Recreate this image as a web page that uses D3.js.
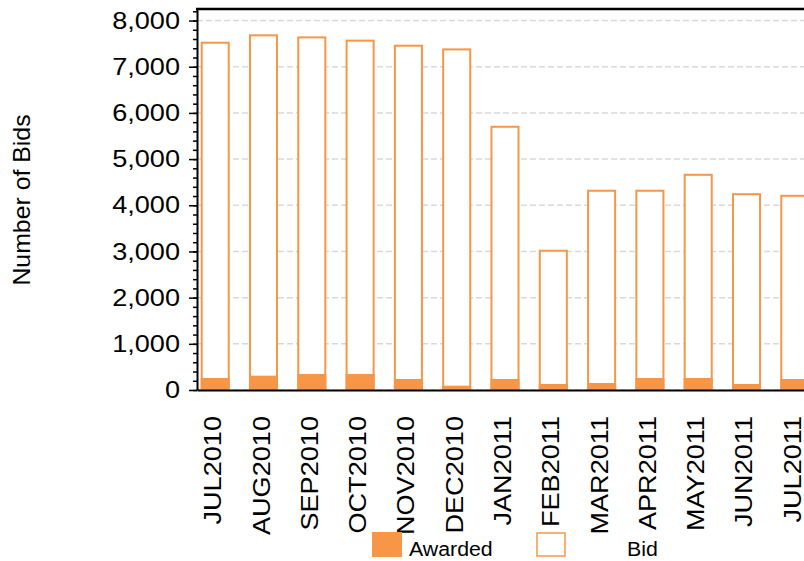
<!DOCTYPE html>
<html lang="en">
  <head>
    <meta charset="utf-8">
    <title>Bids by month</title>
    <script src="https://d3js.org/d3.v7.min.js"></script>
    <style>
      body { margin: 0; background: #fff; }
      svg { display: block; font-family: "Liberation Sans", Arial, sans-serif; }
    </style>
  </head>
  <body>
    <script type="text/javascript">

      var w = 804;
      var h = 561;

      var months = ["JUL2010","AUG2010","SEP2010","OCT2010","NOV2010","DEC2010",
                    "JAN2011","FEB2011","MAR2011","APR2011","MAY2011","JUN2011","JUL2011"];
      var bid     = [7520, 7680, 7635, 7565, 7455, 7375, 5700, 3015, 4315, 4315, 4660, 4240, 4205];
      var awarded = [260, 310, 346, 346, 238, 94, 238, 130, 152, 260, 260, 130, 238];
      var yTicks  = [0, 1000, 2000, 3000, 4000, 5000, 6000, 7000, 8000];
      var seriesNames = ["Awarded", "Bid"];

      var orange = "#F79646";

      // plot box (right side runs past the window, like the original)
      // note: can't call these top/left etc, window.top is read-only
      var plotL = 197, plotR = 813, plotT = 9, plotB = 390;

      var svg = d3.select("body")
          .append("svg")
          .attr("width", w)
          .attr("height", h);

      var xscale = d3.scaleBand()
            .domain(months)
            .range([plotL, plotR])
            .paddingInner(0.44)
            .paddingOuter(0.097);

      var yscale = d3.scaleLinear()
            .domain([0, 8250])
            .range([plotB, plotT]);

      // stretch text along its line a bit, the original font runs wide
      function stretch(sel, k) {
        sel.each(function() {
          var len = this.getComputedTextLength();
          d3.select(this)
            .attr("textLength", len * k)
            .attr("lengthAdjust", "spacingAndGlyphs");
        });
      }

      // grid
      svg.append("g")
        .selectAll("line")
        .data(yTicks)
        .enter()
        .append("line")
        .attr("x1", plotL)
        .attr("x2", plotR)
        .attr("y1", d => yscale(d))
        .attr("y2", d => yscale(d))
        .attr("stroke", "#d9d9d9")
        .attr("stroke-width", 1.5)
        .attr("stroke-dasharray", "6,3");

      // bars
      var rows = months.map((m, i) => ({month: m, bid: bid[i], awarded: awarded[i]}));

      svg.append("g")
        .selectAll("rect")
        .data(rows)
        .enter()
        .append("rect")
        .attr("x", d => xscale(d.month))
        .attr("y", d => yscale(d.bid))
        .attr("width", xscale.bandwidth())
        .attr("height", d => plotB - yscale(d.bid))
        .attr("fill", "white")
        .attr("stroke", orange)
        .attr("stroke-width", 2);

      svg.append("g")
        .selectAll("rect")
        .data(rows)
        .enter()
        .append("rect")
        .attr("x", d => xscale(d.month) - 1)
        .attr("y", d => yscale(d.awarded))
        .attr("width", xscale.bandwidth() + 2)
        .attr("height", d => plotB - yscale(d.awarded))
        .attr("fill", orange);

      // y axis, minor then major
      var minor = d3.range(0, 8201, 200);
      svg.append("g")
        .attr("transform", "translate(" + plotL + ",0)")
        .call(d3.axisLeft(yscale).tickValues(minor).tickSize(4).tickFormat(""))
        .call(g => g.select(".domain").remove())
        .selectAll("line").attr("stroke-width", 1.5);

      var yAxis = svg.append("g")
        .attr("transform", "translate(" + plotL + ",0)")
        .call(d3.axisLeft(yscale)
                .tickValues(yTicks)
                .tickSize(8)
                .tickSizeOuter(0)
                .tickPadding(9)
                .tickFormat(d3.format(",")));
      yAxis.select(".domain").attr("stroke-width", 2);
      yAxis.selectAll("line").attr("stroke-width", 1.5);
      yAxis.selectAll("text")
        .attr("font-size", 24)
        .attr("font-family", "'Liberation Sans', Arial, sans-serif")
        .attr("fill", "#000")
        .call(stretch, 1.13);

      // x axis
      var xAxis = svg.append("g")
        .attr("transform", "translate(0," + plotB + ")")
        .call(d3.axisBottom(xscale).tickSize(0).tickSizeOuter(0));
      xAxis.select(".domain").attr("stroke-width", 2);
      xAxis.selectAll("text")
        .attr("x", 0)
        .attr("y", 0)
        .attr("dy", 0)
        .attr("transform", "translate(6,26) rotate(-90)")
        .attr("text-anchor", "end")
        .attr("font-size", 24)
        .attr("font-family", "'Liberation Sans', Arial, sans-serif")
        .attr("fill", "#000")
        .call(stretch, 1.13);

      // top edge of the frame
      svg.append("line")
        .attr("x1", plotL - 1)
        .attr("x2", plotR)
        .attr("y1", plotT)
        .attr("y2", plotT)
        .attr("stroke", "#000")
        .attr("stroke-width", 2.5);

      // y title
      svg.append("text")
        .attr("transform", "translate(30,200) rotate(-90)")
        .attr("text-anchor", "middle")
        .attr("font-size", 24)
        .text("Number of Bids")
        .call(stretch, 1.035);

      // legend
      var legend = svg.append("g");
      legend.append("rect")
        .attr("x", 372).attr("y", 532)
        .attr("width", 30).attr("height", 25)
        .attr("fill", orange);
      legend.append("text")
        .attr("x", 409).attr("y", 556)
        .attr("font-size", 20)
        .text(seriesNames[0])
        .call(stretch, 1.065);
      legend.append("rect")
        .attr("x", 537).attr("y", 533)
        .attr("width", 28).attr("height", 23)
        .attr("fill", "white")
        .attr("stroke", orange)
        .attr("stroke-width", 1.5);
      legend.append("text")
        .attr("x", 627).attr("y", 556)
        .attr("font-size", 20)
        .text(seriesNames[1])
        .call(stretch, 1.065);

    </script>
  </body>
</html>
